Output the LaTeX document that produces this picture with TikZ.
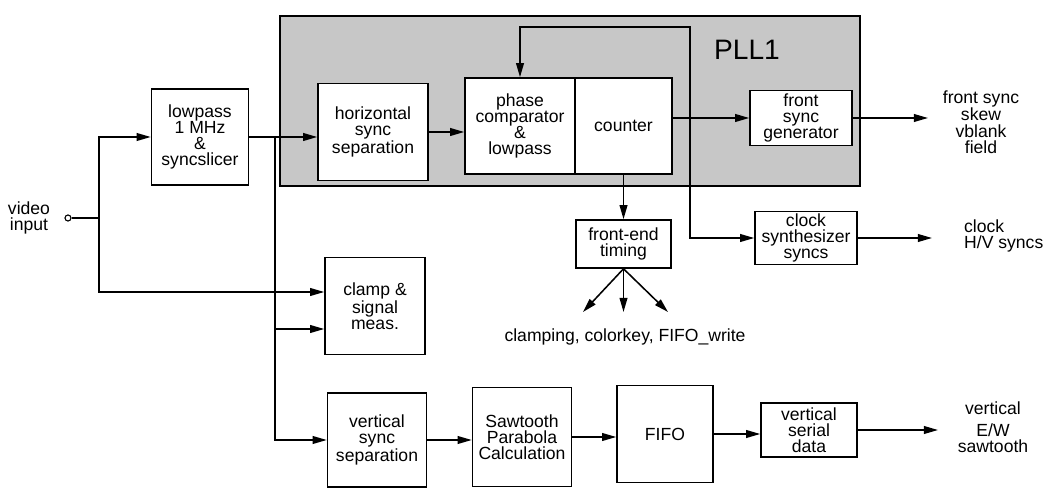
\documentclass[tikz,border=0pt]{standalone}
\usepackage{fontspec}
\setmainfont{Liberation Sans}
\usetikzlibrary{arrows.meta}

\definecolor{pllgray}{gray}{0.78}

\tikzset{
  blk/.style 2 args={draw, fill=white, align=center, inner sep=1pt,
    minimum width=#1*0.025cm, minimum height=#2*0.025cm},
  lbl/.style={align=center, inner sep=1pt},
}

\begin{document}
\begin{tikzpicture}[x=0.025cm, y=-0.025cm, line width=1.1pt,
    >={Triangle[length=10pt,width=5.5pt]},
    font=\fontsize{12.5}{11.5}\selectfont]
    \useasboundingbox (0,0) rectangle (1043,490);

    % PLL1 area
    \draw[fill=pllgray] (280,16) rectangle (860,186);
    \node[font=\fontsize{20}{20}\selectfont] (plltxt) at (747,50) {PLL1};

    % blocks
    \node[blk={97}{96}] (lowpass) at (200,137) {lowpass\\1 MHz\\\&\\syncslicer};
    \node[blk={110}{97}] (hsync) at (373,132) {horizontal\\sync\\separation};
    \node[blk={110}{96}] (phase) at (520,126) {phase\\comparator\\\&\\lowpass};
    \node[blk={97}{96}] (counter) at (623.5,126) {counter};
    \node[blk={102}{55}] (fsg) at (801,118) {front\\sync\\generator};
    \node[blk={95}{48}] (fet) at (623.5,244) {front-end\\timing};
    \node[blk={102}{53}] (clk) at (806,238) {clock\\synthesizer\\syncs};
    \node[blk={100}{97}] (clamp) at (375,306) {clamp \&\\signal\\meas.};
    \node[blk={99}{94}] (vsync) at (377,440) {vertical\\sync\\separation};
    \node[blk={99}{99}] (saw) at (522,437) {Sawtooth\\Parabola\\Calculation};
    \node[blk={96}{97}] (fifo) at (665,434) {FIFO};
    \node[blk={96}{54}] (vsd) at (809,430) {vertical\\serial\\data};

    % inputs and outputs
    \node[lbl] (vidin) at (29,218) {video\\input};
    \node[draw, circle, fill=white, inner sep=0pt, minimum size=0.15cm, line width=0.8pt] (vin) at (68,218) {};
    \node[lbl] (fsout) at (981,122) {front sync\\skew\\vblank\\field};
    \node[lbl, align=left, anchor=west] (clkout) at (962,236) {clock\\H/V syncs};
    \node[lbl] (vout) at (993,427) {vertical\\[4pt]E/W\\sawtooth};
    \node[lbl] (fetout) at (625,337) {clamping, colorkey, FIFO\_write};

    % junctions and free ends
    \coordinate (jv) at (99,218);
    \coordinate (jl) at (275,137);
    \coordinate (jc) at (690,118);
    \coordinate (jt) at (690,27);
    \path (clamp.west) ++(0,-14) coordinate (clampa);
    \path (clamp.west) ++(0,23) coordinate (clampb);
    \coordinate (fa) at (583,312);
    \coordinate (fb) at (623.5,312);
    \coordinate (fc) at (668,312);
    \coordinate (fso) at (928,118);
    \coordinate (clko) at (932,238);
    \coordinate (vso) at (938,430);

    % connectors
    \draw (vin) -- (jv);
    \draw[->] (jv) |- (lowpass.west);
    \draw[->] (jv) |- (clampa);
    \draw (lowpass.east) -- (jl);
    \draw[->] (jl) -- (hsync.west |- jl);
    \draw[->] (jl) |- (vsync.west);
    \draw[->] (jl |- clampb) -- (clampb);
    \draw[->] (hsync.east) -- (hsync.east -| phase.west);
    \draw[->] (counter.east |- fsg.west) -- (fsg.west);
    \draw[->] (jc) -- (jt) -| (phase.north);
    \draw[->] (jc) |- (clk.west);
    \draw[->] (counter.south) -- (fet.north);
    \draw[->] (fet.south) -- (fa);
    \draw[->] (fet.south) -- (fb);
    \draw[->] (fet.south) -- (fc);
    \draw[->] (fsg.east) -- (fso);
    \draw[->] (clk.east) -- (clko);
    \draw[->] (vsync.east) -- (vsync.east -| saw.west);
    \draw[->] (saw.east) -- (saw.east -| fifo.west);
    \draw[->] (fifo.east) -- (fifo.east -| vsd.west);
    \draw[->] (vsd.east) -- (vso);
\end{tikzpicture}
\end{document}
